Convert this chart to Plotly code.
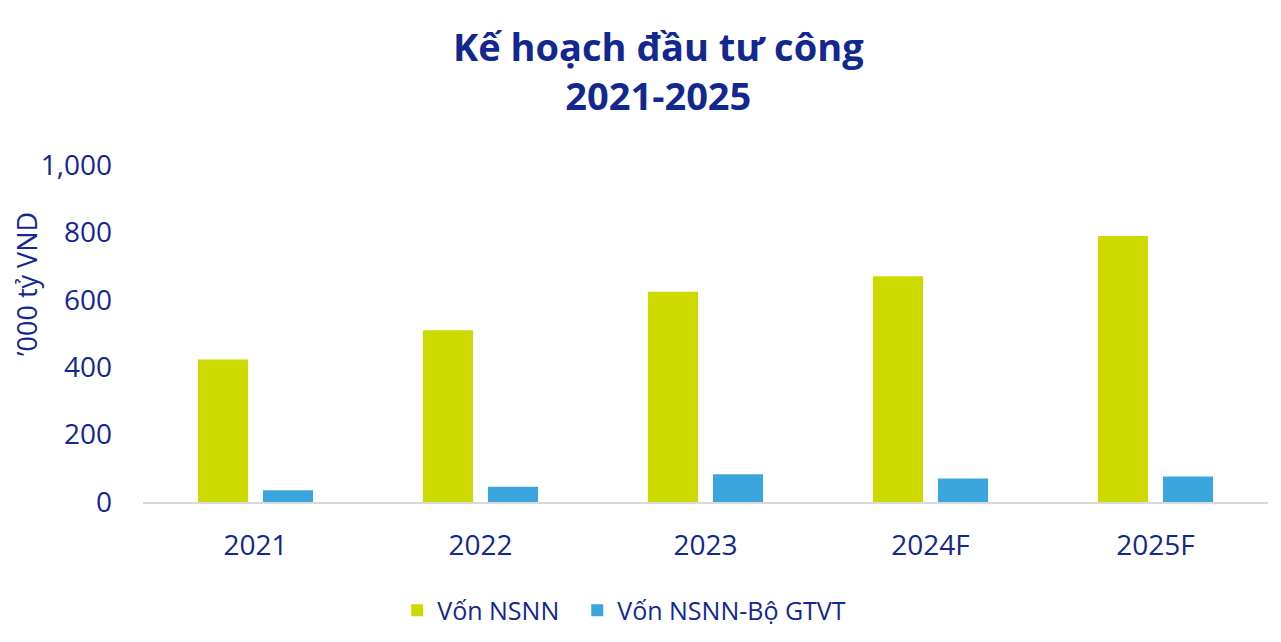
import plotly.graph_objects as go

categories = ["2021", "2022", "2023", "2024F", "2025F"]
von_nsnn = [423, 510, 624, 670, 789]
von_nsnn_gtvt = [35, 45, 82, 70, 76]
series_names = ["Vốn NSNN", "Vốn NSNN-Bộ GTVT"]
y_ticks = [0, 200, 400, 600, 800, 1000]
y_tick_labels = ["0", "200", "400", "600", "800", "1,000"]
title_text = "<b>Kế hoạch đầu tư công<br>2021-2025</b>"

NAVY = "#13288E"
FONT = "Open Sans"

fig = go.Figure()
fig.add_trace(go.Bar(x=categories, y=von_nsnn, name=series_names[0], legend="legend",
                     marker=dict(color="#CCDA00", line=dict(width=0))))
fig.add_trace(go.Bar(x=categories, y=von_nsnn_gtvt, name=series_names[1], legend="legend2",
                     marker=dict(color="#3BA6DD", line=dict(width=0))))

legend_style = dict(orientation="h", xanchor="left", y=-0.322, yanchor="middle",
                    font=dict(size=25, color=NAVY), itemwidth=30, bgcolor="rgba(0,0,0,0)")

fig.update_layout(
    width=1281, height=642,
    margin=dict(l=135, r=21, t=157, b=148, autoexpand=False),
    paper_bgcolor="white", plot_bgcolor="white",
    barmode="group", bargap=0.422, bargroupgap=0.23,
    font=dict(family=FONT, color=NAVY, size=27),
    showlegend=True,
    legend=dict(x=0.226, **legend_style),
    legend2=dict(x=0.226 + 180 / 1125, **legend_style),
    xaxis=dict(showgrid=False, showline=True, linecolor="#D9D9D9", linewidth=2,
               ticks="", tickfont=dict(size=28, color=NAVY), ticklabelstandoff=17,
               automargin=False),
    yaxis=dict(range=[0, 1000], tickvals=y_ticks, ticktext=y_tick_labels,
               showgrid=False, showline=False, zeroline=False, ticks="",
               tickfont=dict(size=28, color=NAVY), ticklabelstandoff=30,
               automargin=False),
)

fig.add_annotation(text=title_text, xref="paper", yref="paper",
                   x=(658 - 143) / 1125, y=(502 - 71) / 337, xanchor="center", yanchor="middle",
                   showarrow=False, font=dict(family=FONT, size=38, color=NAVY))

fig.add_annotation(text="’000 tỷ VND", textangle=-90, xref="paper", yref="paper",
                   x=-0.104, y=(502 - 284) / 337, xanchor="center", yanchor="middle",
                   showarrow=False, font=dict(family=FONT, size=27, color=NAVY))

fig.write_html("out.html")
